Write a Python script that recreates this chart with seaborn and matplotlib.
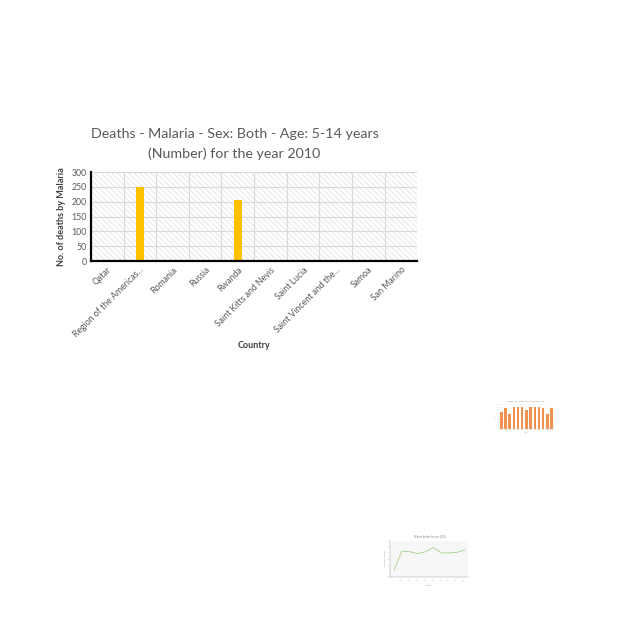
import matplotlib
matplotlib.use("Agg")
import matplotlib.pyplot as plt
import seaborn as sns
import pandas as pd
from matplotlib.patches import Rectangle

# Main chart data
countries = ["Qatar", "Region of the Americas...", "Romania", "Russia", "Rwanda",
             "Saint Kitts and Nevis", "Saint Lucia", "Saint Vincent and the...",
             "Samoa", "San Marino"]
deaths = [0, 251, 0, 0, 206, 0, 0, 0, 0, 0]

# Small embedded bar chart
small_bar_labels = [f"C{i}" for i in range(1, 14)]
small_bar_values = [28, 35, 25, 36, 36, 36, 31, 36, 36, 36, 35, 24, 35]

# Small embedded line chart
small_line_labels = [f"L{i}" for i in range(1, 11)]
small_line_values = [1.1, 4.3, 4.2, 3.9, 4.2, 4.9, 4.0, 4.0, 4.1, 4.5]

sns.set_theme(style="white")
plt.rcParams["font.family"] = ["Lato", "DejaVu Sans"]

fig = plt.figure(figsize=(6.4, 6.4), dpi=100)
ax = fig.add_axes([0.142, 0.592, 0.510, 0.139])

df = pd.DataFrame({"Country": countries, "Deaths": deaths})
sns.barplot(data=df, x="Country", y="Deaths", color="#FFC000", width=0.25,
            saturation=1, linewidth=0, ax=ax, zorder=3)

# hatched plot background
ax.add_patch(Rectangle((0, 0), 1, 1, transform=ax.transAxes, facecolor="white",
                       edgecolor="#ededed", hatch="\\\\\\\\\\\\", linewidth=0, zorder=0))
ax.set_xlim(-0.5, len(countries) - 0.5)
ax.set_ylim(0, 300)
ax.set_yticks(range(0, 301, 50))
for x in range(1, len(countries)):
    ax.axvline(x - 0.5, color="#d9d9d9", lw=0.8, zorder=1)
for y in range(50, 301, 50):
    ax.axhline(y, color="#d9d9d9", lw=0.8, zorder=1)

for s in ["top", "right"]:
    ax.spines[s].set_visible(False)
ax.spines["left"].set_color("black")
ax.spines["left"].set_linewidth(1.6)
ax.spines["bottom"].set_color("black")
ax.spines["bottom"].set_linewidth(1.6)
ax.spines["left"].set_zorder(5)
ax.spines["bottom"].set_zorder(5)

ax.tick_params(axis="both", length=0, labelsize=6.3, colors="#595959", pad=3)
ax.set_xticks(range(len(countries)))
ax.set_xticklabels(countries, rotation=45, ha="right", rotation_mode="anchor")
ax.set_xlabel("Country", fontsize=6.5, fontweight="bold", color="#404040", labelpad=1)
ax.set_ylabel("No. of deaths by Malaria", fontsize=6.5, fontweight="bold", color="#404040", labelpad=4)
ax.set_title("Deaths - Malaria - Sex: Both - Age: 5-14 years\n(Number) for the year 2010",
             fontsize=10.3, color="#595959", pad=10, x=0.44, linespacing=1.75)

# small bar chart thumbnail
ax2 = fig.add_axes([0.780, 0.330, 0.085, 0.038])
sns.barplot(x=small_bar_labels, y=small_bar_values, color="#F0924F", saturation=1,
            width=0.6, linewidth=0, ax=ax2)
ax2.set_ylim(0, 40)
ax2.set_facecolor("white")
ax2.grid(axis="y", color="#eeeeee", lw=0.3)
for s in ax2.spines.values():
    s.set_visible(False)
ax2.spines["bottom"].set_visible(True)
ax2.spines["bottom"].set_color("#cccccc")
ax2.spines["bottom"].set_linewidth(0.3)
ax2.tick_params(length=0, labelsize=1, colors="#aaaaaa", pad=0.5)
ax2.set_xlabel("Country", fontsize=1, color="#aaaaaa", labelpad=1)
ax2.set_ylabel("Deaths", fontsize=1, color="#aaaaaa", labelpad=1)
ax2.set_title("Deaths by country for the selected year", fontsize=1.5, color="#888888", pad=2)

# small line chart thumbnail
ax3 = fig.add_axes([0.610, 0.098, 0.122, 0.057])
sns.lineplot(x=small_line_labels, y=small_line_values, color="#a9d18e", lw=0.6, ax=ax3)
ax3.set_ylim(0, 6)
ax3.set_facecolor("#f6f6f6")
ax3.grid(axis="y", color="white", lw=0.3)
for s in ax3.spines.values():
    s.set_visible(False)
ax3.spines["left"].set_visible(True)
ax3.spines["bottom"].set_visible(True)
ax3.spines["left"].set_color("#999999")
ax3.spines["bottom"].set_color("#999999")
ax3.spines["left"].set_linewidth(0.3)
ax3.spines["bottom"].set_linewidth(0.3)
ax3.tick_params(length=0, labelsize=1.5, colors="#999999", pad=1)
ax3.set_xticks(range(len(small_line_labels)))
ax3.set_xticklabels(small_line_labels, rotation=45, ha="right", rotation_mode="anchor")
ax3.set_xlabel("Country", fontsize=1.5, color="#999999", labelpad=2)
ax3.set_ylabel("Number of deaths", fontsize=1.5, color="#999999", labelpad=1)
ax3.set_title("Malaria deaths for year 2010", fontsize=1.8, color="#888888", pad=2)

fig.savefig("out.png", dpi=100, facecolor="white")
